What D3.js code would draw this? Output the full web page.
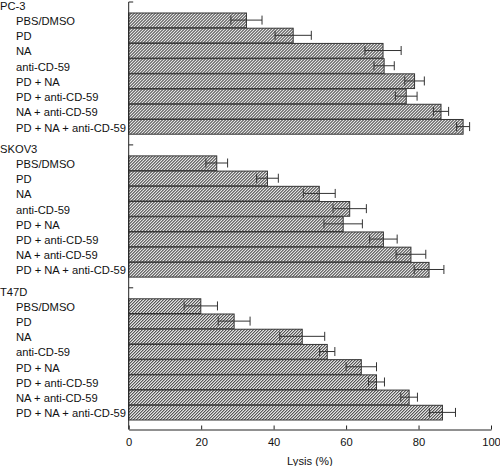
<!DOCTYPE html>
<html><head><meta charset="utf-8">
<script src="https://cdn.jsdelivr.net/npm/d3@7"></script>
<style>body{margin:0;background:#fff}svg{display:block}text{font-family:"Liberation Sans",Arial,sans-serif;font-size:11.2px;fill:#111}</style>
</head><body>
<script>
const panels = ["PC-3", "SKOV3", "T47D"];
const treatments = ["PBS/DMSO", "PD", "NA", "anti-CD-59", "PD + NA", "PD + anti-CD-59", "NA + anti-CD-59", "PD + NA + anti-CD-59"];
const lysisPC3 = [32.5, 45.4, 70.2, 70.5, 78.9, 76.6, 86.2, 92.3];
const errPC3 = [4.3, 5.0, 5.0, 2.8, 2.7, 3.0, 2.1, 1.8];
const lysisSKOV3 = [24.3, 38.3, 52.6, 61.0, 59.2, 70.3, 77.9, 82.9];
const errSKOV3 = [3.0, 3.0, 4.4, 4.6, 5.3, 3.8, 4.1, 4.1];
const lysisT47D = [19.9, 29.1, 47.9, 54.8, 64.2, 68.4, 77.4, 86.6];
const errT47D = [4.6, 4.4, 6.2, 2.1, 4.2, 2.2, 2.3, 3.6];
const xTicks = [0, 20, 40, 60, 80, 100];
const xLabel = "Lysis (%)";

const values = [lysisPC3, lysisSKOV3, lysisT47D];
const errors = [errPC3, errSKOV3, errT47D];

const W = 500, H = 466;
const svg = d3.select("body").append("svg").attr("width", W).attr("height", H);

const defs = svg.append("defs");
const pat = defs.append("pattern").attr("id", "hatch").attr("patternUnits", "userSpaceOnUse")
  .attr("width", 3).attr("height", 3);
pat.append("rect").attr("width", 3).attr("height", 3).attr("fill", "#e4e4e4");
pat.append("path").attr("d", "M-1,1 L1,-1 M0,3 L3,0 M2,4 L4,2")
  .attr("stroke", "#1a1a1a").attr("stroke-width", 1);

const x = d3.scaleLinear().domain([0, 100]).range([128.7, 491]);
const yPanel = d3.scaleBand().domain(panels).range([12.5, 420]).paddingInner(0.1484);
const yRow = d3.scaleBand().domain(treatments).range([0, yPanel.bandwidth()]);

panels.forEach((p, pi) => {
  const g = svg.append("g").attr("transform", `translate(0,${yPanel(p)})`);
  g.append("text").attr("x", 0).attr("y", -6.5).attr("dy", "0.35em").text(p);
  g.append("line").attr("x1", x(0)).attr("x2", x(0) + 4.5).attr("y1", -10.5).attr("y2", -10.5)
    .attr("stroke", "#222").attr("stroke-width", 1);
  const data = treatments.map((t, i) => ({t, v: values[pi][i], e: errors[pi][i]}));
  g.selectAll("text.cat").data(data).join("text").attr("class", "cat")
    .attr("x", 16).attr("y", d => yRow(d.t) + yRow.bandwidth() / 2 + 1).attr("dy", "0.35em").text(d => d.t);
  g.selectAll("rect.bar").data(data).join("rect").attr("class", "bar")
    .attr("x", x(0)).attr("y", d => yRow(d.t) + 0.5)
    .attr("width", d => x(d.v) - x(0)).attr("height", yRow.bandwidth() - 0.5)
    .attr("fill", "url(#hatch)").attr("stroke", "#333").attr("stroke-width", 1);
  const eb = g.selectAll("g.err").data(data).join("g").attr("class", "err")
    .attr("transform", d => `translate(0,${yRow(d.t) + yRow.bandwidth() / 2})`);
  eb.append("line").attr("x1", d => x(d.v - d.e)).attr("x2", d => x(d.v + d.e))
    .attr("stroke", "#333").attr("stroke-width", 1);
  eb.append("line").attr("x1", d => x(d.v - d.e)).attr("x2", d => x(d.v - d.e))
    .attr("y1", -4.5).attr("y2", 4.5).attr("stroke", "#333").attr("stroke-width", 1);
  eb.append("line").attr("x1", d => x(d.v + d.e)).attr("x2", d => x(d.v + d.e))
    .attr("y1", -4.5).attr("y2", 4.5).attr("stroke", "#333").attr("stroke-width", 1);
});

svg.append("line").attr("x1", x(0)).attr("x2", x(0)).attr("y1", 2).attr("y2", 429.5)
  .attr("stroke", "#222").attr("stroke-width", 1);

const xAxis = d3.axisBottom(x).tickValues(xTicks).tickSizeInner(-4).tickSizeOuter(0).tickPadding(9);
const ax = svg.append("g").attr("transform", "translate(0,429.5)").call(xAxis);
ax.select(".domain").attr("stroke", "#222");
ax.selectAll(".tick line").attr("stroke", "#222");
ax.selectAll(".tick text").attr("font-size", 11.2).attr("font-family", '"Liberation Sans",Arial,sans-serif').attr("fill", "#111");
svg.append("text").attr("x", (x(0) + x(100)) / 2).attr("y", 461).attr("dy", "0.35em")
  .attr("text-anchor", "middle").text(xLabel);
</script>
</body></html>
